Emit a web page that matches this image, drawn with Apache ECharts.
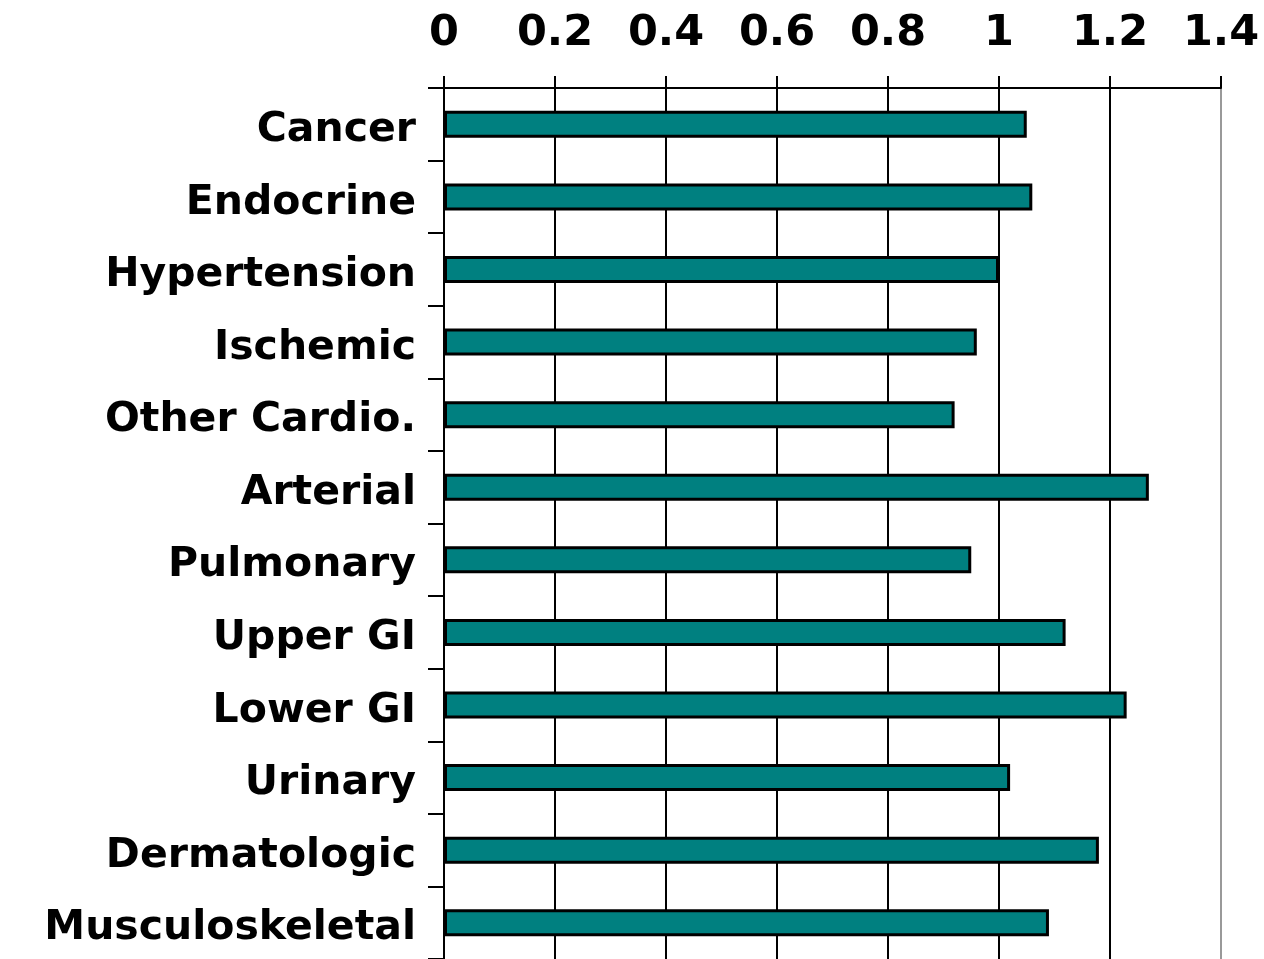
<!DOCTYPE html>
<html>
<head>
<meta charset="utf-8">
<script src="https://cdn.jsdelivr.net/npm/echarts@6/dist/echarts.min.js"></script>
<style>
  html, body { margin: 0; padding: 0; background: #fff; }
  #chart { width: 1264px; height: 959px; }
</style>
</head>
<body>
<div id="chart"></div>
<script>
// categories, top to bottom
const categories = [
  'Cancer', 'Endocrine', 'Hypertension', 'Ischemic', 'Other Cardio.', 'Arterial',
  'Pulmonary', 'Upper GI', 'Lower GI', 'Urinary', 'Dermatologic', 'Musculoskeletal'
]
// ratio values
const values = [1.05, 1.06, 1.00, 0.96, 0.92, 1.27, 0.95, 1.12, 1.23, 1.02, 1.18, 1.09]
const xTicks = [0, 0.2, 0.4, 0.6, 0.8, 1, 1.2, 1.4]

const font = 'DejaVu Sans'
const chart = echarts.init(document.getElementById('chart'))

chart.setOption({
  animation: false,
  grid: { left: 444, right: 43, top: 88, bottom: -2 },
  xAxis: {
    type: 'value',
    position: 'top',
    min: 0,
    max: 1.4,
    interval: 0.2,
    axisLine: { show: true, lineStyle: { color: '#000', width: 2 } },
    axisTick: { show: true, length: 12, lineStyle: { color: '#000', width: 2 } },
    axisLabel: {
      color: '#000',
      fontFamily: font,
      fontWeight: 'bold',
      fontSize: 43,
      margin: 33,
      formatter: (v) => String(Math.round(v * 10) / 10)
    },
    splitLine: {
      show: true,
      lineStyle: {
        color: xTicks.map((t, i) => i === xTicks.length - 1 ? '#999' : '#000'),
        width: 2
      }
    }
  },
  yAxis: {
    type: 'category',
    inverse: true,
    data: categories,
    axisLine: { show: true, lineStyle: { color: '#000', width: 2 } },
    axisTick: { show: true, length: 16, lineStyle: { color: '#000', width: 2 } },
    axisLabel: {
      margin: 28,
      formatter: (v) => '{c|' + v + '}',
      rich: {
        c: {
          color: '#000',
          fontFamily: font,
          fontWeight: 'bold',
          fontSize: 41,
          padding: [12, 0, 0, 0]
        }
      }
    }
  },
  series: [
    {
      type: 'bar',
      data: values,
      barWidth: 27,
      itemStyle: {
        color: '#008080',
        borderColor: '#000',
        borderWidth: 3
      }
    }
  ]
})
</script>
</body>
</html>
